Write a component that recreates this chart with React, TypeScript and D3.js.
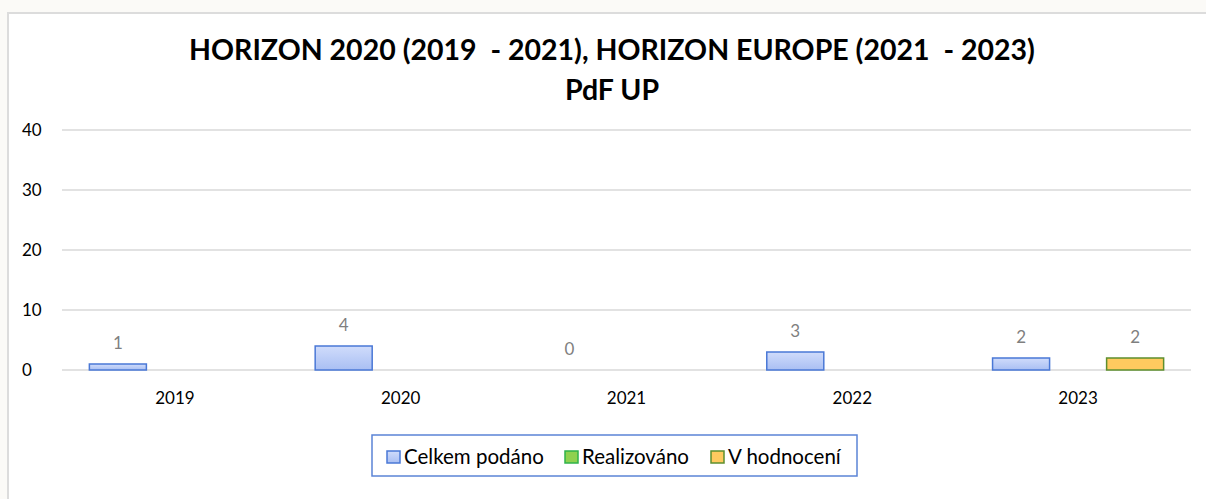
import React from 'react';
import * as d3 from 'd3';

const years = ['2019', '2020', '2021', '2022', '2023'];
const seriesNames = ['Celkem podáno', 'Realizováno', 'V hodnocení'];
const celkem = [1, 4, 0, 3, 2];
const realizovano = [0, 0, 0, 0, 0];
const vHodnoceni = [0, 0, 0, 0, 2];
// which values have a data label in the original
const celkemLabels = [true, true, true, true, true];
const realizovanoLabels = [false, false, false, false, false];
const vHodnoceniLabels = [false, false, false, false, true];
const yTicks = [0, 10, 20, 30, 40];

const fills = ['url(#gradBlue)', '#8fd14f', '#ffca5f'];
const strokes = ['#4a78d6', '#2fb34a', '#5e8f2e'];
const legendX = [387, 565, 711];

const W = 1206;
const H = 499;
const margin = { top: 130, left: 62, right: 15, bottom: 129 };

export default function App() {
  const series = [celkem, realizovano, vHodnoceni];
  const labels = [celkemLabels, realizovanoLabels, vHodnoceniLabels];

  const x = d3.scaleBand().domain(years).range([margin.left, W - margin.right]).paddingInner(0).paddingOuter(0);
  const inner = d3.scaleBand().domain(seriesNames).range([0, x.bandwidth()]).paddingInner(0).paddingOuter(0.48);
  const y = d3.scaleLinear().domain([0, 40]).range([H - margin.bottom, margin.top]);

  const font = 'Lato, "Open Sans", sans-serif';

  return (
    <svg width={W} height={H} style={{ position: 'absolute', left: 0, top: 0 }} fontFamily={font}>
      <defs>
        <linearGradient id="gradBlue" x1="0" y1="0" x2="0" y2="1">
          <stop offset="0%" stopColor="#d0dcfb" />
          <stop offset="100%" stopColor="#a9bff3" />
        </linearGradient>
      </defs>
      <rect x={0} y={0} width={W} height={H} fill="#fbfaf7" />
      <rect x={8} y={13} width={W} height={H} fill="#ffffff" stroke="#dcdcdc" strokeWidth={2} />

      <text x={612} y={60} textAnchor="middle" fontSize={28.5} fontWeight="bold" fill="#000" style={{ whiteSpace: 'pre' }}>
        {'HORIZON 2020 (2019  - 2021), HORIZON EUROPE (2021  - 2023)'}
      </text>
      <text x={612} y={100} textAnchor="middle" fontSize={28.5} fontWeight="bold" fill="#000">
        PdF UP
      </text>

      {yTicks.map(t => (
        <g key={t}>
          <line x1={margin.left} x2={W - margin.right} y1={y(t)} y2={y(t)} stroke="#d9d9d9" strokeWidth={1.5} />
          <text x={22} y={y(t)} dy="0.35em" fontSize={17} fill="#000">{t}</text>
        </g>
      ))}

      {years.map(yr => (
        <text key={yr} x={(x(yr) as number) + x.bandwidth() / 2} y={404} textAnchor="middle" fontSize={17} fill="#000">
          {yr}
        </text>
      ))}

      {series.map((vals, si) => (
        <g key={si}>
          {vals.map((v, i) => {
            const bx = (x(years[i]) as number) + (inner(seriesNames[si]) as number);
            const top = y(v);
            return (
              <g key={i}>
                {v > 0 && (
                  <rect x={bx} y={top} width={inner.bandwidth()} height={y(0) - top}
                    fill={fills[si]} stroke={strokes[si]} strokeWidth={1.5} />
                )}
                {labels[si][i] && (
                  <text x={bx + inner.bandwidth() / 2} y={top - 15} textAnchor="middle" fontSize={17} fill="#7f7f7f">
                    {v}
                  </text>
                )}
              </g>
            );
          })}
        </g>
      ))}

      <rect x={372} y={435} width={485} height={41} fill="#fff" stroke="#5b84d6" strokeWidth={1.5} />
      {seriesNames.map((name, si) => (
        <g key={name}>
          <rect x={legendX[si]} y={451} width={13} height={12} fill={fills[si]} stroke={strokes[si]} strokeWidth={1.5} />
          <text x={legendX[si] + 17} y={464} fontSize={20.5} fill="#000">{name}</text>
        </g>
      ))}
    </svg>
  );
}
